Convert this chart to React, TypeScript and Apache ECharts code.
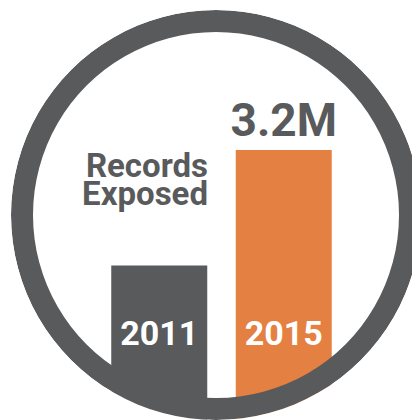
import React, { useEffect, useRef } from "react";
import * as echarts from "echarts";

const years = ["2011", "2015"];
const recordsMillions = [1.83, 3.2];
const valueLabels = ["", "3.2M"];
const titleLines = ["Records", "Exposed"];

const GRAY = "#595a5c";
const ORANGE = "#e38042";
const FONT = "Roboto, sans-serif";

export default function App() {
  const ref = useRef<HTMLDivElement>(null);
  useEffect(() => {
    document.body.style.margin = "0";
    if (!ref.current) return;
    const chart = echarts.init(ref.current, null, { renderer: "svg" });
    chart.setOption({
      animation: false,
      backgroundColor: "#ffffff",
      grid: { left: 97, right: 66, top: 150, bottom: 0, containLabel: false },
      xAxis: {
        type: "category",
        data: years,
        z: 10,
        axisLine: { show: false },
        axisTick: { show: false },
        axisLabel: {
          inside: true,
          margin: 70,
          color: "#ffffff",
          fontFamily: FONT,
          fontWeight: "bold",
          fontSize: 34,
        },
      },
      yAxis: { type: "value", min: 0, max: 3.2, show: false },
      series: [
        {
          type: "bar",
          z: 2,
          barWidth: 96,
          data: recordsMillions.map((v, i) => ({
            value: v,
            itemStyle: { color: i === 0 ? GRAY : ORANGE },
            label: {
              show: valueLabels[i] !== "",
              position: "top",
              distance: 7,
              formatter: valueLabels[i],
              color: GRAY,
              fontFamily: FONT,
              fontWeight: "bold",
              fontSize: 46,
            },
          })),
        },
        {
          type: "pie",
          z: 5,
          silent: true,
          center: [216, 215],
          radius: [183, 205],
          label: { show: false },
          labelLine: { show: false },
          emphasis: { disabled: true },
          itemStyle: { color: GRAY, borderWidth: 0 },
          data: [{ value: 1, name: "ring" }],
        },
        {
          type: "pie",
          z: 6,
          silent: true,
          center: [216, 215],
          radius: [205, 340],
          label: { show: false },
          labelLine: { show: false },
          emphasis: { disabled: true },
          itemStyle: { color: "#ffffff", borderWidth: 0 },
          data: [{ value: 1, name: "outside" }],
        },
      ],
      graphic: [
        {
          type: "text",
          z: 100,
          x: 208,
          y: 151,
          style: {
            text: titleLines.join("\n"),
            align: "right",
            verticalAlign: "top",
            fill: GRAY,
            font: "bold 33px Roboto, sans-serif",
            lineHeight: 28,
          },
        },
      ],
    });
    return () => chart.dispose();
  }, []);
  return <div ref={ref} style={{ width: 412, height: 420 }} />;
}
